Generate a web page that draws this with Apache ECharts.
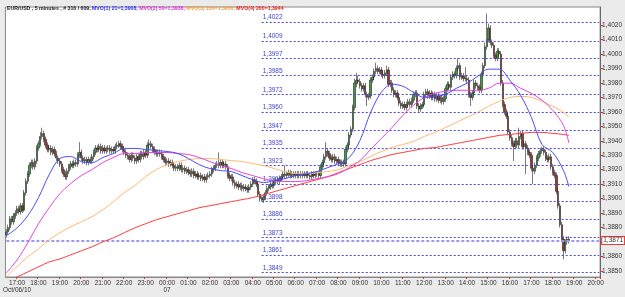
<!DOCTYPE html>
<html><head><meta charset="utf-8">
<script src="https://cdn.jsdelivr.net/npm/echarts@6/dist/echarts.min.js"></script>
<style>html,body{margin:0;padding:0;background:#ebebeb}#c{width:625px;height:297px}</style>
</head><body><div id="c"></div>
<script>
// prices stored as pips above BASE
const BASE = 1.38, PIP = 0.0001;
const START_H = 16, START_M = 30, STEP_MIN = 5, SLOTS = 333;

const OPEN = [
75,77,80,86,84,88,90,93,91,95,92,104,
112,117,123,125,122,126,135,138,143,145,141,137,
134,135,132,134,131,128,126,124,120,117,115,119,
122,124,123,125,124,130,132,128,126,127,125,127,
126,129,132,135,134,136,133,135,133,134,135,133,
134,133,136,137,138,136,134,132,130,129,127,130,
128,126,129,127,131,129,132,130,137,138,136,134,
132,131,132,131,129,127,125,126,124,125,123,121,
122,121,123,120,121,119,120,118,117,119,116,117,
115,116,114,115,113,115,116,117,120,121,123,124,
123,125,123,124,122,116,114,115,111,109,110,108,
109,107,108,107,106,108,110,113,112,110,103,100,
99,101,104,107,108,110,109,112,113,112,114,115,
117,116,117,118,116,117,116,117,116,117,116,117,
116,117,116,115,117,116,117,117,116,122,125,129,
133,131,128,127,129,126,127,125,124,125,124,134,
137,144,148,163,180,182,181,178,176,178,172,170,
171,182,184,188,190,188,189,186,185,187,189,179,
180,175,172,173,170,166,164,165,163,165,167,165,
168,172,173,164,162,164,165,172,174,171,173,170,
172,169,171,168,170,167,169,176,179,177,184,186,
185,190,192,184,185,183,183,182,172,170,173,180,
178,177,175,186,192,205,210,218,208,206,199,197,
202,200,180,165,160,157,146,142,138,136,140,137,
143,145,136,138,135,132,130,121,119,123,128,131,
133,134,132,128,127,129,122,118,116,105,95,82,
72,64,70,72];
const CLOSE = [
77,80,86,84,88,90,93,91,95,92,104,112,
117,123,125,122,126,135,138,143,145,141,137,134,
135,132,134,131,128,126,124,120,117,115,119,122,
124,123,125,124,130,132,128,126,127,125,127,126,
129,132,135,134,136,133,135,133,134,135,133,134,
133,136,137,138,136,134,132,130,129,127,130,128,
126,129,127,131,129,132,130,137,138,136,134,132,
131,132,131,129,127,125,126,124,125,123,121,122,
121,123,120,121,119,120,118,117,119,116,117,115,
116,114,115,113,115,116,117,120,121,123,124,123,
125,123,124,122,116,114,115,111,109,110,108,109,
107,108,107,106,108,110,113,112,110,103,100,99,
101,104,107,108,110,109,112,113,112,114,115,117,
116,117,118,116,117,116,117,116,117,116,117,116,
117,116,115,117,116,117,117,116,122,125,129,133,
131,128,127,129,126,127,125,124,125,124,134,137,
144,148,163,180,182,181,178,176,178,172,170,171,
182,184,188,190,188,189,186,185,187,189,179,180,
175,172,173,170,166,164,165,163,165,167,165,168,
172,173,164,162,164,165,172,174,171,173,170,172,
169,171,168,170,167,169,176,179,177,184,186,185,
190,192,184,185,183,183,182,172,170,173,180,178,
177,175,186,192,205,210,218,208,206,199,197,202,
200,180,165,160,157,146,142,138,136,140,137,143,
145,136,138,135,132,130,121,119,123,128,131,133,
134,132,128,127,129,122,118,116,105,95,82,72,
64,70,72,71];
const LOW = [
73,75,78,82,82,86,88,89,89,90,91,102,
110,115,121,120,120,124,133,136,141,139,135,132,
132,130,130,129,126,124,122,118,115,113,113,117,
120,121,121,122,122,128,126,124,124,123,123,124,
124,127,130,132,132,131,131,131,131,132,131,131,
131,131,134,135,134,132,130,128,127,125,125,126,
124,124,125,125,127,127,128,128,135,134,132,130,
129,129,129,127,125,123,123,122,122,121,119,119,
119,119,118,118,117,117,116,115,115,114,114,113,
113,112,112,111,111,113,114,115,118,119,121,121,
121,121,121,120,114,112,112,109,107,107,106,106,
105,105,105,104,104,106,108,110,108,101,98,98,
97,99,102,105,106,107,107,110,110,110,112,113,
114,114,115,114,114,114,114,114,114,114,114,114,
114,114,113,113,114,114,115,114,114,120,123,127,
129,126,125,125,124,124,123,122,122,122,122,132,
135,142,146,161,177,179,176,174,174,170,164,168,
169,180,182,186,186,186,184,183,183,185,177,177,
173,170,170,168,164,162,162,161,161,163,163,163,
166,170,162,160,160,162,163,170,169,169,168,168,
167,167,166,166,165,165,167,174,175,175,182,183,
183,188,182,182,181,181,180,170,164,168,171,176,
175,173,173,184,190,203,208,206,204,197,195,195,
198,178,163,158,155,144,140,136,126,134,135,135,
141,134,134,117,130,128,119,110,117,121,126,129,
131,130,126,125,125,120,116,114,103,93,80,70,
58,62,68,69];
const HIGH = [
79,82,88,88,90,92,95,95,97,97,106,114,
119,125,127,127,128,137,140,146,149,147,143,139,
137,137,136,136,133,130,128,126,122,119,121,124,
126,126,127,127,132,139,134,130,129,129,129,129,
131,134,137,137,138,138,137,137,136,137,137,136,
136,138,139,140,140,138,136,134,132,131,132,132,
130,131,131,133,133,134,134,139,141,140,138,136,
134,134,134,133,131,129,128,128,127,127,125,124,
124,125,125,123,123,122,122,120,121,121,119,119,
118,118,117,117,117,118,119,122,123,125,126,132,
127,127,126,126,124,118,117,117,113,112,112,111,
111,110,110,109,110,112,115,115,114,112,105,102,
103,106,109,110,112,112,114,115,115,116,117,119,
123,119,120,120,119,119,119,119,119,119,119,119,
119,119,118,119,119,119,119,119,124,127,131,139,
135,133,130,131,131,129,129,127,127,127,136,139,
146,150,165,183,187,185,183,180,180,180,174,173,
184,186,190,194,192,191,191,188,189,192,191,182,
182,177,175,175,172,168,167,167,167,169,169,170,
174,175,175,166,166,167,174,176,176,175,175,174,
174,173,173,172,172,171,178,181,181,186,188,188,
192,197,194,187,187,191,185,184,174,175,182,182,
180,179,188,194,208,228,221,220,210,208,201,204,
204,202,182,167,162,159,148,144,140,142,142,149,
147,147,140,140,137,134,132,123,125,130,133,135,
136,136,134,130,131,131,124,120,118,107,97,84,
74,72,74,74];

// moving averages read every 6 bars (last point = last bar)
const MA_IDX_STEP = 6, MA_LAST = 315;
const MA21 = [74.3,79.8,88.2,100.7,116.6,127.7,129.1,125.6,124.9,128.4,131.2,134.7,134.7,134.0,133.3,132.6,131.2,127.7,123.5,120.8,119.4,118.7,115.9,113.1,111.1,112.4,113.8,115.9,117.3,118.7,121.5,124.2,128.4,140.2,159.6,173.5,179.1,177.7,173.5,170.0,170.7,172.1,176.3,179.8,184.6,189.5,189.5,181.8,171.4,156.2,137.4,131.9,119.4,108.3];
const MA50 = [48.6,57.6,69.4,82.6,93.7,103.4,110.4,115.9,120.1,124.9,128.4,131.2,131.2,131.9,131.9,131.9,131.2,130.5,128.4,125.6,122.9,120.8,118.0,115.9,113.8,112.4,111.8,111.8,112.4,113.8,115.2,117.3,121.5,126.3,134.0,141.6,149.2,157.5,164.5,170.0,172.8,174.2,174.9,174.9,174.9,176.3,179.8,179.8,176.3,172.8,168.0,161.0,150.6,138.5];
const MA100 = [46.0,53.0,59.7,65.3,71.5,76.4,80.5,84.0,87.5,92.3,97.9,104.1,109.0,115.2,120.1,123.5,125.6,127.0,127.7,127.7,127.0,126.3,125.6,124.2,122.9,120.8,118.7,117.3,117.3,118.0,118.7,120.1,122.9,125.6,129.1,132.6,135.3,137.4,139.5,143.0,145.8,149.2,152.7,156.2,159.6,163.8,167.3,170.0,170.7,170.0,167.3,163.8,159.6,156.5];
const MA200 = [42.4,45.8,49.3,52.8,56.2,58.3,61.1,63.9,66.7,70.1,72.9,76.4,79.8,82.6,85.4,87.5,89.6,91.6,93.7,95.1,96.5,97.9,99.3,100.7,102.7,104.8,106.9,109.0,111.1,113.1,115.2,118.0,120.8,123.5,126.3,128.4,130.5,131.9,133.3,134.7,135.3,136.7,138.1,139.5,140.9,142.3,143.7,144.4,145.1,145.8,145.8,145.1,144.4,143.7];

const LEVELS = [1.4022,1.4009,1.3997,1.3985,1.3972,1.3960,1.3947,1.3935,1.3923,1.3910,1.3898,1.3886,1.3873,1.3861,1.3849];
const LEVEL_START = 143;
const LAST_PRICE = 1.3871;
const Y_TICKS = [1.385,1.386,1.387,1.388,1.389,1.390,1.391,1.392,1.393,1.394,1.395,1.396,1.397,1.398,1.399,1.400,1.401,1.402];
const DATE_MARKS = [['17:00','Oct/06/10'],['00:00','07']];
const HEADER = ['EUR/USD , 5 minutes , # 316 / 609, ','MVO(1) 21=1,3908, ','MVO(2) 50=1,3938, ','MVO(3) 100=1,3956, ','MVO(4) 200=1,3944'];

const CATS = [];
for (let k = 0; k < SLOTS; k++) {
  const t = START_H * 60 + START_M + k * STEP_MIN;
  const h = Math.floor(t / 60) % 24, m = t % 60;
  CATS.push(String(h).padStart(2,'0') + ':' + String(m).padStart(2,'0'));
}
const px = p => +(BASE + p * PIP).toFixed(5);
const candles = OPEN.map((o, i) => [px(o), px(CLOSE[i]), px(LOW[i]), px(HIGH[i])]);
const maData = arr => arr.map((v, k) => [k === arr.length - 1 ? MA_LAST : k * MA_IDX_STEP, px(v)]);
const fmt = v => v.toFixed(4).replace('.', ',');
const dateIdx = {};
DATE_MARKS.forEach(([t, s]) => { dateIdx[CATS.indexOf(t)] = s; });
const isHour = (i) => /:00$/.test(CATS[i]);
const isDate = (i) => dateIdx[i] !== undefined;

const FONT = 'Liberation Sans, Arial, sans-serif';
const chart = echarts.init(document.getElementById('c'), null, {renderer: 'canvas'});
const maSeries = (name, arr, color) => ({
  name, type: 'line', data: maData(arr), smooth: 0.35, symbol: 'none', z: 5,
  lineStyle: {color, width: 1}, silent: true, clip: true
});
const hdrStyle = c => ({color: c, fontSize: 5.2, fontFamily: FONT});
const levelItems = LEVELS.map(v => [{coord: [LEVEL_START, v]}, {coord: [SLOTS - 1, v]}]);
levelItems.push([
  {coord: [0, LAST_PRICE],
   lineStyle: {color: '#9a9af0', width: 2, type: [3, 2]},
   label: {show: true, position: 'end', formatter: fmt(LAST_PRICE), fontSize: 6.5, fontFamily: FONT, color: '#333',
           backgroundColor: '#fff', borderColor: '#e03030', borderWidth: 1, padding: [0, 1], distance: 3}},
  {coord: [SLOTS - 1, LAST_PRICE]}
]);
chart.setOption({
  backgroundColor: '#ebebeb',
  animation: false,
  title: {
    left: 2, top: 1,
    text: '{k|' + HEADER[0] + '}{b|' + HEADER[1] + '}{m|' + HEADER[2] + '}{o|' + HEADER[3] + '}{r|' + HEADER[4] + '}',
    textStyle: {
      fontSize: 5.2, fontFamily: FONT, lineHeight: 6,
      rich: {k: hdrStyle('#222'), b: hdrStyle('#3333ee'), m: hdrStyle('#dd33dd'), o: hdrStyle('#f0a040'), r: hdrStyle('#ee2222')}
    }
  },
  grid: {left: 3, right: 23, top: 7, bottom: 20, show: true, backgroundColor: '#ffffff', borderColor: '#888', borderWidth: 1},
  xAxis: [{
    type: 'category', data: CATS, boundaryGap: true,
    axisLine: {show: true, lineStyle: {color: '#888', width: 1}},
    axisTick: {show: true, interval: isHour, length: 2, lineStyle: {color: '#e03030'}},
    axisLabel: {interval: isHour, fontSize: 6.5, fontFamily: FONT, color: '#333', margin: 3, hideOverlap: false},
    splitLine: {show: false}
  }, {
    type: 'category', data: CATS, boundaryGap: true, position: 'bottom', offset: 0,
    axisLine: {show: false}, axisTick: {show: false}, splitLine: {show: false},
    axisLabel: {interval: isDate, formatter: (v, i) => dateIdx[i] || '', fontSize: 6.5, fontFamily: FONT, color: '#333', margin: 10, hideOverlap: false}
  }],
  yAxis: {
    type: 'value', position: 'right', min: 1.38458, max: 1.40325, scale: true,
    axisLine: {show: true, lineStyle: {color: '#666', width: 1}},
    axisTick: {show: true, customValues: Y_TICKS, length: 3, lineStyle: {color: '#e03030'}},
    axisLabel: {customValues: Y_TICKS, formatter: fmt, fontSize: 6.5, fontFamily: FONT, color: '#333', margin: 2},
    splitLine: {show: false}
  },
  series: [
    {
      name: 'levels', type: 'line', data: [], z: 1, silent: true,
      markLine: {
        silent: true, symbol: 'none', animation: false,
        lineStyle: {color: '#4444ee', width: 1, type: [2, 2]},
        label: {show: true, position: 'insideStartTop', distance: [1, 1], formatter: p => fmt(p.data.coord[1]),
                fontSize: 6.5, fontFamily: FONT, color: '#4444cc'},
        data: levelItems
      }
    },
    {
      name: 'EURUSD', type: 'candlestick', data: candles, z: 3, barWidth: 1.8,
      itemStyle: {color: '#3f9f3f', color0: '#a8322a', borderColor: '#222', borderColor0: '#222', borderWidth: 0.6}
    },
    maSeries('MA200', MA200, '#ff3a3a'),
    maSeries('MA100', MA100, '#ffb870'),
    maSeries('MA50', MA50, '#e244e2'),
    maSeries('MA21', MA21, '#4a4aff')
  ]
});
</script>
</body></html>
